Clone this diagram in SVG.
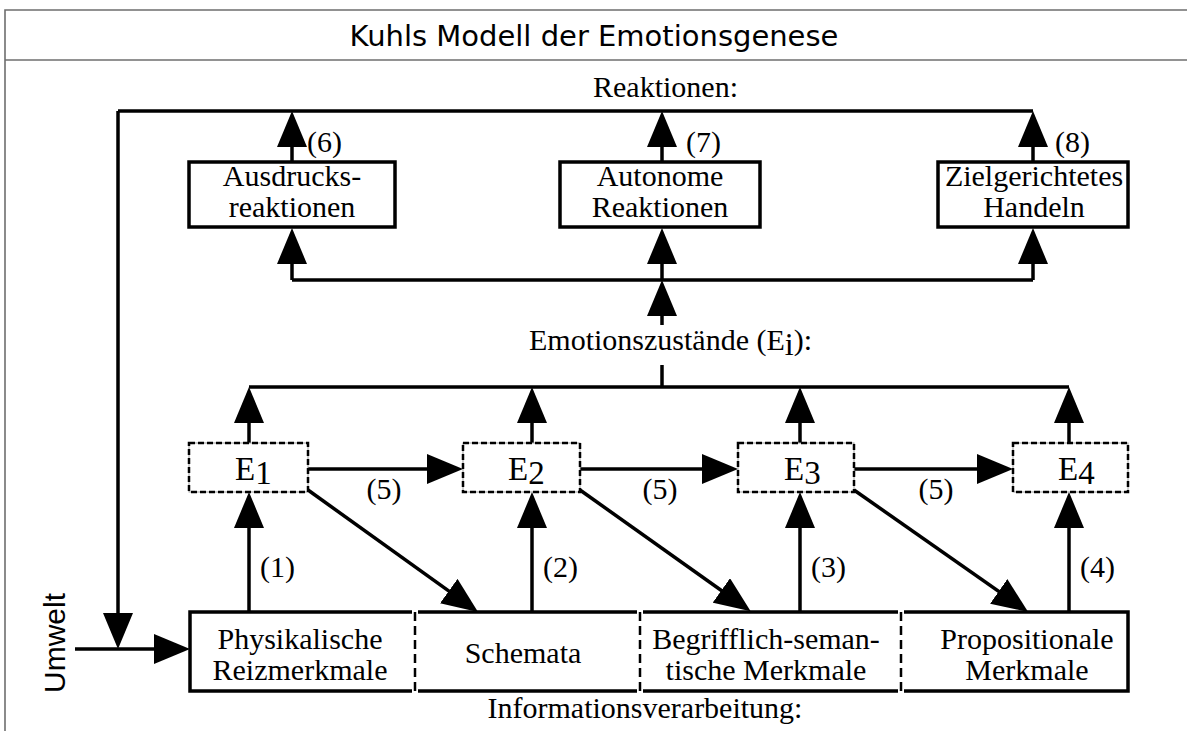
<svg xmlns="http://www.w3.org/2000/svg" width="1187" height="731" viewBox="0 0 1187 731">
  <style>
    .frame { stroke: #6e6e6e; stroke-width: 1.6; fill: none; }
    .title { font-family: "DejaVu Sans", "Liberation Sans", sans-serif; font-size: 29px; fill: #000; }
    .lbl { font-family: "Liberation Serif", "Times New Roman", serif; font-size: 30px; fill: #000; }
    .elbl { font-family: "Liberation Serif", "Times New Roman", serif; font-size: 33px; fill: #000; }
    .side { font-family: "Liberation Sans", Arial, sans-serif; font-size: 30px; fill: #000; }
    .box { fill: #fff; stroke: #000; stroke-width: 3.5; }
    .ebox-under { fill: #fff; stroke: #a0a0a0; stroke-width: 1; }
    .ebox { fill: none; stroke: #000; stroke-width: 2.5; stroke-dasharray: 6 3; }
    .divider { stroke: #000; stroke-width: 2.5; stroke-dasharray: 9 5; fill: none; }
    .conn path { fill: none; stroke: #000; stroke-width: 3.5; }
    .arrow path { marker-end: url(#head); }
  </style>
  <defs>
    <marker id="head" markerUnits="userSpaceOnUse" markerWidth="36" markerHeight="30"
            viewBox="0 0 36 30" refX="26" refY="15" orient="auto">
      <path d="M0,0 L36,15 L0,30 z" fill="#000"/>
    </marker>
  </defs>

  <rect width="1187" height="731" fill="#fff"/>

  <!-- frame and title bar -->
  <g id="frame">
    <path class="frame" d="M5,731 V10 H1187"/>
    <path class="frame" d="M5,60 H1187"/>
    <text class="title" x="594" y="46" text-anchor="middle">Kuhls Modell der Emotionsgenese</text>
  </g>

  <!-- connectors -->
  <g id="connectors" class="conn">
    <!-- plain lines -->
    <path d="M118,111 H1033"/>
    <path d="M292,280 H1033"/>
    <path d="M662,387 V365"/>
    <path d="M249,387 H1069"/>
    <g class="arrow">
      <!-- feedback to environment -->
      <path d="M118,111 V639"/>
      <path d="M75,649 H180"/>
      <!-- reactions (6) (7) (8) -->
      <path d="M292,162 V121"/>
      <path d="M662,162 V121"/>
      <path d="M1033,162 V121"/>
      <!-- fan into reaction boxes -->
      <path d="M292,280 V238"/>
      <path d="M662,280 V238"/>
      <path d="M1033,280 V238"/>
      <path d="M662,325 V290"/>
      <!-- emotion states up to collector -->
      <path d="M249,443 V397"/>
      <path d="M532,443 V397"/>
      <path d="M800,443 V397"/>
      <path d="M1069,443 V397"/>
      <!-- processing stages (1)-(4) -->
      <path d="M249,612 V502"/>
      <path d="M532,612 V502"/>
      <path d="M800,612 V502"/>
      <path d="M1069,612 V502"/>
      <!-- transitions (5) -->
      <path d="M308,469 H453"/>
      <path d="M580,469 H728"/>
      <path d="M854,469 H1003"/>
      <!-- diagonals to next stage -->
      <path d="M308,490 L469.9,606.2"/>
      <path d="M580,490 L742.5,605.5"/>
      <path d="M854,490 L1020,606.3"/>
    </g>
  </g>

  <!-- connector labels -->
  <g id="connector-labels" class="lbl">
    <text x="307" y="152">(6)</text>
    <text x="686" y="152">(7)</text>
    <text x="1055" y="152">(8)</text>
    <text x="384" y="499" text-anchor="middle">(5)</text>
    <text x="660" y="499" text-anchor="middle">(5)</text>
    <text x="936" y="499" text-anchor="middle">(5)</text>
    <text x="260" y="577">(1)</text>
    <text x="543" y="577">(2)</text>
    <text x="811" y="577">(3)</text>
    <text x="1080" y="577">(4)</text>
  </g>

  <!-- section headings -->
  <g id="heading-reactions"><text class="lbl" x="593" y="97">Reaktionen:</text></g>
  <g id="heading-emotions">
    <text class="lbl" x="529" y="350">Emotionszustände (E<tspan dy="5" font-size="32">i</tspan><tspan dy="-5">):</tspan></text>
  </g>
  <g id="heading-processing"><text class="lbl" x="645" y="718" text-anchor="middle">Informationsverarbeitung:</text></g>

  <!-- reaction boxes -->
  <g id="node-ausdruck">
    <rect class="box" x="189" y="162" width="206" height="65"/>
    <text class="lbl" x="292" y="186" text-anchor="middle">Ausdrucks-</text>
    <text class="lbl" x="292" y="217" text-anchor="middle">reaktionen</text>
  </g>
  <g id="node-autonom">
    <rect class="box" x="560" y="162" width="200" height="65"/>
    <text class="lbl" x="660" y="186" text-anchor="middle">Autonome</text>
    <text class="lbl" x="660" y="217" text-anchor="middle">Reaktionen</text>
  </g>
  <g id="node-handeln">
    <rect class="box" x="938" y="162" width="190" height="65"/>
    <text class="lbl" x="1034" y="186" text-anchor="middle">Zielgerichtetes</text>
    <text class="lbl" x="1034" y="217" text-anchor="middle">Handeln</text>
  </g>

  <!-- emotion state boxes -->
  <g id="node-e1">
    <rect class="ebox-under" x="189" y="443" width="119" height="49"/>
    <rect class="ebox" x="189" y="443" width="119" height="49"/>
    <text class="elbl" x="235" y="480">E<tspan dy="4">1</tspan></text>
  </g>
  <g id="node-e2">
    <rect class="ebox-under" x="463" y="443" width="117" height="49"/>
    <rect class="ebox" x="463" y="443" width="117" height="49"/>
    <text class="elbl" x="508" y="480">E<tspan dy="4">2</tspan></text>
  </g>
  <g id="node-e3">
    <rect class="ebox-under" x="738" y="443" width="116" height="49"/>
    <rect class="ebox" x="738" y="443" width="116" height="49"/>
    <text class="elbl" x="784" y="480">E<tspan dy="4">3</tspan></text>
  </g>
  <g id="node-e4">
    <rect class="ebox-under" x="1013" y="443" width="115" height="49"/>
    <rect class="ebox" x="1013" y="443" width="115" height="49"/>
    <text class="elbl" x="1058" y="480">E<tspan dy="4">4</tspan></text>
  </g>

  <!-- processing stages -->
  <g id="node-processing">
    <rect class="box" x="190" y="612" width="938" height="79"/>
    <rect x="412" y="609" width="6" height="85" fill="#fff"/>
    <rect x="637" y="609" width="6" height="85" fill="#fff"/>
    <rect x="898" y="609" width="6" height="85" fill="#fff"/>
    <path class="divider" d="M415,612 V691 M640,612 V691 M901,612 V691"/>
  </g>
  <g id="node-physikalisch">
    <text class="lbl" x="300" y="649" text-anchor="middle">Physikalische</text>
    <text class="lbl" x="300" y="680" text-anchor="middle">Reizmerkmale</text>
  </g>
  <g id="node-schemata">
    <text class="lbl" x="523" y="663" text-anchor="middle">Schemata</text>
  </g>
  <g id="node-begrifflich">
    <text class="lbl" x="766" y="649" text-anchor="middle">Begrifflich-seman-</text>
    <text class="lbl" x="766" y="680" text-anchor="middle">tische Merkmale</text>
  </g>
  <g id="node-propositional">
    <text class="lbl" x="1027" y="649" text-anchor="middle">Propositionale</text>
    <text class="lbl" x="1027" y="680" text-anchor="middle">Merkmale</text>
  </g>

  <!-- environment -->
  <g id="node-umwelt">
    <text class="side" x="65" y="643" text-anchor="middle" transform="rotate(-90 65 643)">Umwelt</text>
  </g>
</svg>
